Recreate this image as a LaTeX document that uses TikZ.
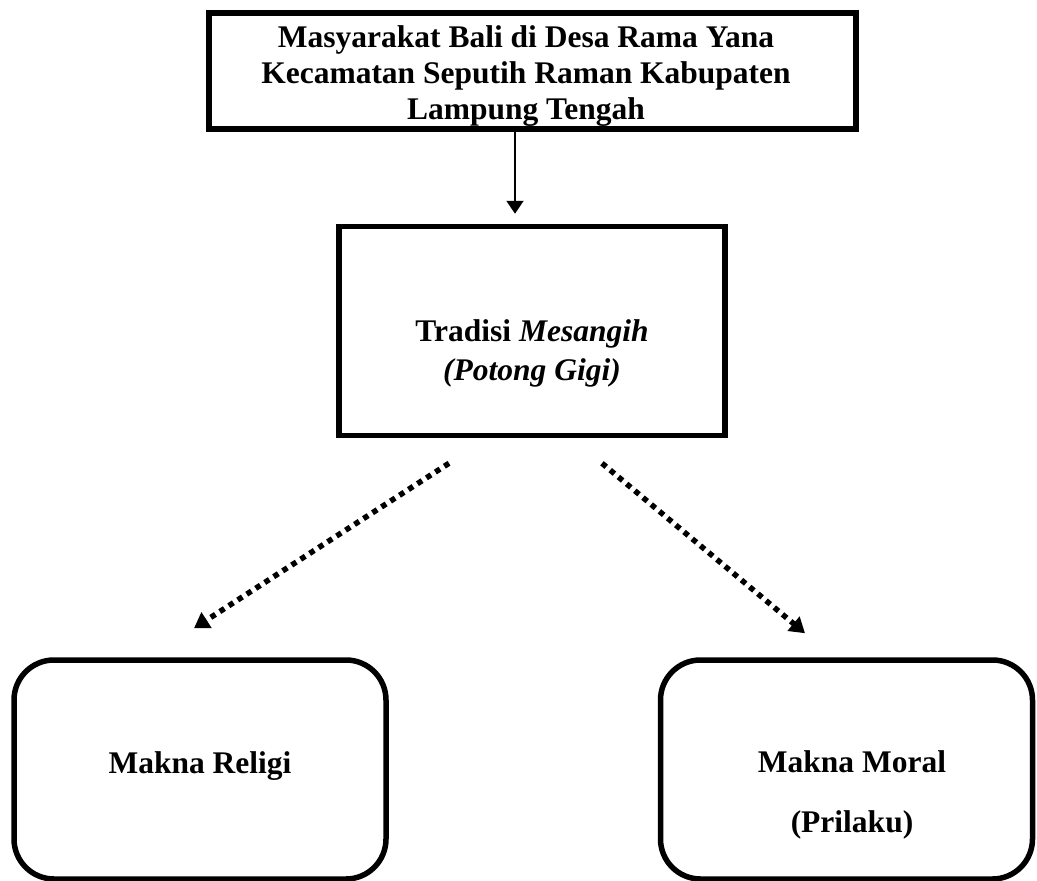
\documentclass[tikz,border=0pt]{standalone}
\usepackage{fontspec}
\setmainfont{Liberation Serif}
\usetikzlibrary{arrows.meta,calc}
\begin{document}
\begin{tikzpicture}[x=1pt,y=-1pt,
  every node/.style={font=\fontsize{31.5}{36}\selectfont\bfseries},
  sqbox/.style={draw, line width=6pt, rectangle, inner sep=0pt},
  rbox/.style={draw, line width=5.5pt, rounded corners=40pt, rectangle, inner sep=0pt,
    minimum width=372pt, minimum height=219pt},
  txt/.style={align=center, inner sep=0pt},
  solidarrow/.style={line width=2pt, -{Triangle[width=17pt,length=13pt]}},
  dotarrow/.style={line width=5.5pt, dash pattern=on 5.5pt off 5.2pt,
    -{Triangle[width=18pt,length=15pt]}}
]
\useasboundingbox (0,0) rectangle (1037,881);

% boxes
\node[sqbox, minimum width=647pt, minimum height=116pt] (top) at (532.5,71) {};
\node[txt] (toptext) at (526,76) {Masyarakat Bali di Desa Rama Yana\\Kecamatan Seputih Raman Kabupaten\\Lampung Tengah};

\node[sqbox, line width=5.5pt, minimum width=386pt, minimum height=209pt] (mid) at (532,331) {};
\node[txt, font=\fontsize{31.5}{39}\selectfont\bfseries] (midtext) at (532,353)
  {Tradisi \textit{Mesangih}\\\textit{(Potong Gigi)}};

\node[rbox] (boxL) at (200,769.5) {};
\node[anchor=base, inner sep=0pt] (religi) at (200,773) {Makna Religi};
\node[rbox] (boxR) at (846.5,769.5) {};
\node[anchor=base, inner sep=0pt] (moral) at (852,772) {Makna Moral};
\node[anchor=base, inner sep=0pt] (prilaku) at (852,832) {(Prilaku)};

% connectors
\draw[solidarrow] ([xshift=-17.5pt]top.south) -- ([xshift=-17pt,yshift=10pt]mid.north);
\draw[dotarrow] ([xshift=-83pt,yshift=-25pt]mid.south) -- ([xshift=-6pt,yshift=29pt]boxL.north);
\draw[dotarrow] ([xshift=70pt,yshift=-25pt]mid.south) -- ([xshift=-41.5pt,yshift=24pt]boxR.north);
\end{tikzpicture}
\end{document}
